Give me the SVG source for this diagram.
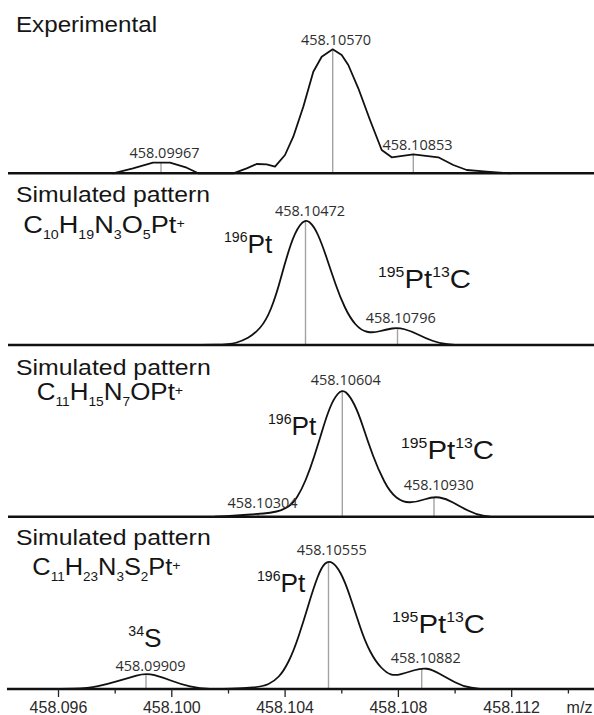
<svg xmlns="http://www.w3.org/2000/svg" width="594" height="715" viewBox="0 0 594 715">
<style>
.bg{fill:#ffffff}
.base{stroke:#111;stroke-width:2.6;fill:none}
.curve{stroke:#111;stroke-width:1.8;fill:none;stroke-linejoin:round;stroke-linecap:round}
.stick{stroke:#a3a3a3;stroke-width:1.4}
.tick{stroke:#222;stroke-width:1.3}
.title{font-family:"Liberation Sans",Arial,sans-serif;fill:#151515}
.iso{font-family:"Liberation Sans",Arial,sans-serif;fill:#151515}
.peak{font-family:"Open Sans","Liberation Sans",sans-serif;font-size:14.5px;fill:#2e2e2e;text-anchor:middle}
.axis{font-family:"Liberation Sans",Arial,sans-serif;font-size:16px;fill:#2a2a2a;text-anchor:middle}
</style>
<rect class="bg" x="0" y="0" width="594" height="715"/>

<g id="panel-experimental">
  <text class="title" x="16" y="32" font-size="22" textLength="141" lengthAdjust="spacingAndGlyphs">Experimental</text>
  <line class="stick" x1="161" y1="163" x2="161" y2="173"/>
  <line class="stick" x1="332.7" y1="49.5" x2="332.7" y2="173"/>
  <line class="stick" x1="413.3" y1="154.5" x2="413.3" y2="173"/>
  <polyline class="curve" points="113,173.3 133,168.3 153,162.7 170,162.7 186.7,167.7 198.3,173.3 233.3,173.3 246.7,168.3 256.7,164 266.7,164.3 275,166.7 285,155 293.3,136.7 303.3,106.7 313.3,71.7 321.7,56.7 332.7,49.3 341.7,55 348.3,65 358.3,88.3 370,120 381.7,150 391.7,157.3 413.3,154.3 438.3,157.3 453.3,165 466.7,170 486.7,171.7 510,173.3"/>
  <line class="base" x1="8" y1="173.3" x2="594" y2="173.3"/>
  <text class="peak" x="336" y="44.5" textLength="70" lengthAdjust="spacingAndGlyphs">458.10570</text>
  <text class="peak" x="417.5" y="150" textLength="70" lengthAdjust="spacingAndGlyphs">458.10853</text>
  <text class="peak" x="164.5" y="158.3" textLength="70" lengthAdjust="spacingAndGlyphs">458.09967</text>
</g>

<g id="panel-sim1">
  <text class="title" x="16" y="201.7" font-size="22.5" textLength="194" lengthAdjust="spacingAndGlyphs">Simulated pattern</text>
  <text class="title" transform="translate(23.3,233.3) scale(1.095,1)" font-size="24.8">C<tspan font-size="13" dy="5.5">10</tspan><tspan dy="-5.5">H</tspan><tspan font-size="13" dy="5.5">19</tspan><tspan dy="-5.5">N</tspan><tspan font-size="13" dy="5.5">3</tspan><tspan dy="-5.5">O</tspan><tspan font-size="13" dy="5.5">5</tspan><tspan dy="-5.5">Pt</tspan><tspan font-size="13" dy="-5">+</tspan></text>
  <text class="iso" transform="translate(224,252.5) scale(1.01,1)" font-size="26"><tspan font-size="14" dy="-11">196</tspan><tspan dy="11">Pt</tspan></text>
  <text class="iso" transform="translate(378,288) scale(1.13,1)" font-size="26"><tspan font-size="14" dy="-11">195</tspan><tspan dy="11">Pt</tspan><tspan font-size="14" dy="-11">13</tspan><tspan dy="11">C</tspan></text>
  <line class="stick" x1="305.5" y1="221" x2="305.5" y2="345"/>
  <line class="stick" x1="397.5" y1="328" x2="397.5" y2="345"/>
  <path class="curve" d="M200,345 L215,344.75 Q230,344.5 236,342.75 Q242,341 248,337.75 Q254,334.5 260,327.75 Q266,321 271,308.5 Q276,296 281,277.5 Q286,259 290.5,245.5 Q295,232 300,225.25 Q305,218.5 309.5,222.25 Q314,226 318,235 Q322,244 326.5,257.5 Q331,271 335.5,284 Q340,297 345,307.5 Q350,318 355.5,324.25 Q361,330.5 367,331.75 Q373,333 379.5,331.25 Q386,329.5 392,328.5 Q398,327.5 404.5,329.25 Q411,331 418,334.5 Q425,338 432.5,340.75 Q440,343.5 447.5,344.25 L455,345"/>
  <line class="base" x1="8" y1="345" x2="594" y2="345"/>
  <text class="peak" x="310" y="215.5" textLength="70" lengthAdjust="spacingAndGlyphs">458.10472</text>
  <text class="peak" x="400.7" y="322.7" textLength="70" lengthAdjust="spacingAndGlyphs">458.10796</text>
</g>

<g id="panel-sim2">
  <text class="title" x="16" y="375" font-size="22.5" textLength="194.7" lengthAdjust="spacingAndGlyphs">Simulated pattern</text>
  <text class="title" transform="translate(36.7,400) scale(1.1,1)" font-size="23.6">C<tspan font-size="12.5" dy="6">11</tspan><tspan dy="-6">H</tspan><tspan font-size="12.5" dy="6">15</tspan><tspan dy="-6">N</tspan><tspan font-size="12.5" dy="6">7</tspan><tspan dy="-6">OPt</tspan><tspan font-size="13" dy="-5">+</tspan></text>
  <text class="iso" transform="translate(268,435) scale(1.01,1)" font-size="26"><tspan font-size="14" dy="-11">196</tspan><tspan dy="11">Pt</tspan></text>
  <text class="iso" transform="translate(401,459) scale(1.13,1)" font-size="26"><tspan font-size="14" dy="-11">195</tspan><tspan dy="11">Pt</tspan><tspan font-size="14" dy="-11">13</tspan><tspan dy="11">C</tspan></text>
  <line class="stick" x1="258" y1="513" x2="258" y2="516.7"/>
  <line class="stick" x1="342.3" y1="391.2" x2="342.3" y2="516.7"/>
  <line class="stick" x1="434" y1="497" x2="434" y2="516.7"/>
  <path class="curve" d="M215,516.7 L226,516.1 Q237,515.5 247,514.75 Q257,514 263.5,513.5 Q270,513 276.5,511.5 Q283,510 288,506.75 Q293,503.5 297.25,496.75 Q301.5,490 305.75,479.75 Q310,469.5 314.25,456.25 Q318.5,443 322.5,429.75 Q326.5,416.5 330,407.75 Q333.5,399 337.75,394 Q342,389 346,392.5 Q350,396 354.25,404.5 Q358.5,413 363.25,427.5 Q368,442 373,455.5 Q378,469 384,480.75 Q390,492.5 396.5,497.5 Q403,502.5 410,502.25 Q417,502 425,499.25 Q433,496.5 439.5,497.5 Q446,498.5 453,502.5 Q460,506.5 468,510.5 Q476,514.5 483,515.6 L490,516.7"/>
  <line class="base" x1="8" y1="516.7" x2="594" y2="516.7"/>
  <text class="peak" x="345.8" y="385" textLength="70" lengthAdjust="spacingAndGlyphs">458.10604</text>
  <text class="peak" x="438.7" y="490" textLength="70" lengthAdjust="spacingAndGlyphs">458.10930</text>
  <text class="peak" x="262.5" y="508.3" textLength="70" lengthAdjust="spacingAndGlyphs">458.10304</text>
</g>

<g id="panel-sim3">
  <text class="title" x="16" y="544.5" font-size="22.5" textLength="194.7" lengthAdjust="spacingAndGlyphs">Simulated pattern</text>
  <text class="title" transform="translate(32.3,575) scale(1.1,1)" font-size="23.1">C<tspan font-size="12.3" dy="6">11</tspan><tspan dy="-6">H</tspan><tspan font-size="12.3" dy="6">23</tspan><tspan dy="-6">N</tspan><tspan font-size="12.3" dy="6">3</tspan><tspan dy="-6">S</tspan><tspan font-size="12.3" dy="6">2</tspan><tspan dy="-6">Pt</tspan><tspan font-size="13" dy="-5">+</tspan></text>
  <text class="iso" transform="translate(128.3,647) scale(1.01,1)" font-size="26"><tspan font-size="14" dy="-11">34</tspan><tspan dy="11">S</tspan></text>
  <text class="iso" transform="translate(257,591.5) scale(1.01,1)" font-size="26"><tspan font-size="14" dy="-11">196</tspan><tspan dy="11">Pt</tspan></text>
  <text class="iso" transform="translate(392,633.3) scale(1.13,1)" font-size="26"><tspan font-size="14" dy="-11">195</tspan><tspan dy="11">Pt</tspan><tspan font-size="14" dy="-11">13</tspan><tspan dy="11">C</tspan></text>
  <line class="stick" x1="146" y1="674" x2="146" y2="689"/>
  <line class="stick" x1="328.5" y1="562" x2="328.5" y2="689"/>
  <line class="stick" x1="421.7" y1="668.5" x2="421.7" y2="689"/>
  <path class="curve" d="M60,689 L74,688.65 Q88,688.3 98,686.15 Q108,684 117.5,681.15 Q127,678.3 136.5,675.55 Q146,672.8 154.5,675.15 Q163,677.5 171.5,680.75 Q180,684 190,686.35 Q200,688.7 210,688.85 Q220,689 231.5,688.65 Q243,688.3 253,687.4 Q263,686.5 268.5,684 Q274,681.5 278.75,676.5 Q283.5,671.5 288.5,661.5 Q293.5,651.5 298.5,636.5 Q303.5,621.5 308.5,604.75 Q313.5,588 317.5,577.5 Q321.5,567 325,563.75 Q328.5,560.5 332.5,563 Q336.5,565.5 340.75,573.5 Q345,581.5 350,596.5 Q355,611.5 360,626.5 Q365,641.5 370.25,651.5 Q375.5,661.5 381,667.25 Q386.5,673 390.75,674.35 Q395,675.7 401,674.1 Q407,672.5 414.25,670.25 Q421.5,668 426.75,668.75 Q432,669.5 439.5,673.75 Q447,678 455,682.25 Q463,686.5 471.5,687.75 L480,689"/>
  <line class="base" x1="7" y1="689" x2="594" y2="689"/>
  <text class="peak" x="331.7" y="555" textLength="70" lengthAdjust="spacingAndGlyphs">458.10555</text>
  <text class="peak" x="425.8" y="663.3" textLength="70" lengthAdjust="spacingAndGlyphs">458.10882</text>
  <text class="peak" x="150.5" y="671" textLength="70" lengthAdjust="spacingAndGlyphs">458.09909</text>
</g>

<g id="axis">
  <line class="tick" x1="58.5" y1="689" x2="58.5" y2="697"/>
  <line class="tick" x1="171.8" y1="689" x2="171.8" y2="697"/>
  <line class="tick" x1="285.1" y1="689" x2="285.1" y2="697"/>
  <line class="tick" x1="398.4" y1="689" x2="398.4" y2="697"/>
  <line class="tick" x1="511.7" y1="689" x2="511.7" y2="697"/>
  <line class="tick" x1="115.2" y1="689" x2="115.2" y2="693.5"/>
  <line class="tick" x1="228.5" y1="689" x2="228.5" y2="693.5"/>
  <line class="tick" x1="341.8" y1="689" x2="341.8" y2="693.5"/>
  <line class="tick" x1="455.1" y1="689" x2="455.1" y2="693.5"/>
  <line class="tick" x1="568.4" y1="689" x2="568.4" y2="693.5"/>
  <text class="axis" x="58.5" y="713">458.096</text>
  <text class="axis" x="171.8" y="713">458.100</text>
  <text class="axis" x="285.1" y="713">458.104</text>
  <text class="axis" x="398.4" y="713">458.108</text>
  <text class="axis" x="511.7" y="713">458.112</text>
  <text class="axis" x="579.5" y="713" font-size="14.5">m/z</text>
</g>
</svg>
